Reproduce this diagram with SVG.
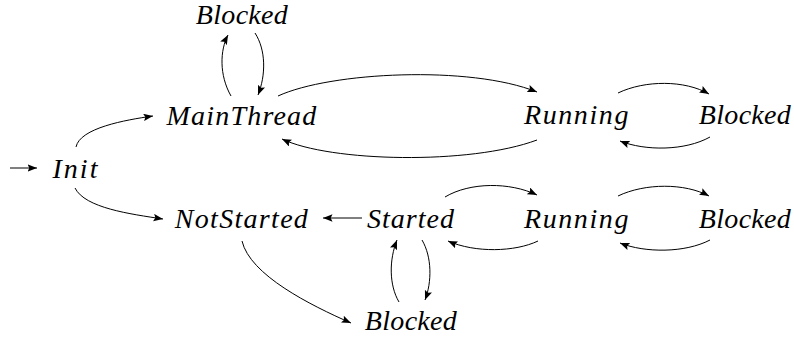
<svg xmlns="http://www.w3.org/2000/svg" width="794" height="342" viewBox="0 0 794 342">
  <style>
    svg g#nodes g text { font-family: 'Liberation Serif', 'Times New Roman', serif !important; font-style: italic !important; font-size: 28px !important; fill: #000; text-anchor: middle; }
    svg g#connectors path { fill: none; stroke: #000; stroke-width: 1; marker-end: url(#tip); }
  </style>
  <defs>
    <marker id="tip" markerUnits="userSpaceOnUse" markerWidth="11" markerHeight="8" refX="9.5" refY="3.75" orient="auto">
      <path d="M0,0 L9.5,3.75 L0,7.5 L1.8,3.75 Z" fill="#000"/>
    </marker>
  </defs>

  <g id="nodes">
    <g id="node-init"><text x="76" y="178" style="font-family:'Liberation Serif',serif !important;font-style:italic !important;letter-spacing:2px">Init</text></g>
    <g id="node-mainthread"><text x="242" y="125" style="font-family:'Liberation Serif',serif !important;font-style:italic !important;letter-spacing:1.2px">MainThread</text></g>
    <g id="node-blocked-main"><text x="242" y="24" style="font-family:'Liberation Serif',serif !important;font-style:italic !important;letter-spacing:0.3px">Blocked</text></g>
    <g id="node-running-main"><text x="577" y="124" style="font-family:'Liberation Serif',serif !important;font-style:italic !important;letter-spacing:1.6px">Running</text></g>
    <g id="node-blocked-running-main"><text x="745" y="124" style="font-family:'Liberation Serif',serif !important;font-style:italic !important;letter-spacing:0.3px">Blocked</text></g>
    <g id="node-notstarted"><text x="242" y="228" style="font-family:'Liberation Serif',serif !important;font-style:italic !important;letter-spacing:1.3px">NotStarted</text></g>
    <g id="node-started"><text x="411" y="228" style="font-family:'Liberation Serif',serif !important;font-style:italic !important;letter-spacing:1px">Started</text></g>
    <g id="node-blocked-started"><text x="411" y="330" style="font-family:'Liberation Serif',serif !important;font-style:italic !important;letter-spacing:0.3px">Blocked</text></g>
    <g id="node-running-started"><text x="577" y="228" style="font-family:'Liberation Serif',serif !important;font-style:italic !important;letter-spacing:1.6px">Running</text></g>
    <g id="node-blocked-running-started"><text x="745" y="228" style="font-family:'Liberation Serif',serif !important;font-style:italic !important;letter-spacing:0.3px">Blocked</text></g>
  </g>

  <g id="connectors">
    <path d="M10,168 L37,168"/>
    <path d="M76,147 C80,128 125,120 153,116"/>
    <path d="M231,96 C219,75 220,50 228,35"/>
    <path d="M255,33 C266,50 266,75 258,95"/>
    <path d="M278,96 C330,72 470,65 537,92"/>
    <path d="M537,140 C470,165 330,162 282,139"/>
    <path d="M618,93 C645,80 685,80 709,94"/>
    <path d="M710,137 C685,151 645,151 620,141"/>
    <path d="M75,188 C85,208 130,214 163,219"/>
    <path d="M362,218 L323,218"/>
    <path d="M242,241 C250,275 310,305 351,323"/>
    <path d="M399,302 C389,285 389,260 397,240"/>
    <path d="M422,240 C432,257 432,282 425,300"/>
    <path d="M445,197 C470,182 510,182 537,195"/>
    <path d="M538,241 C515,252 475,253 448,241"/>
    <path d="M618,196 C645,183 685,183 709,196"/>
    <path d="M710,240 C685,253 645,253 620,243"/>
  </g>
</svg>
